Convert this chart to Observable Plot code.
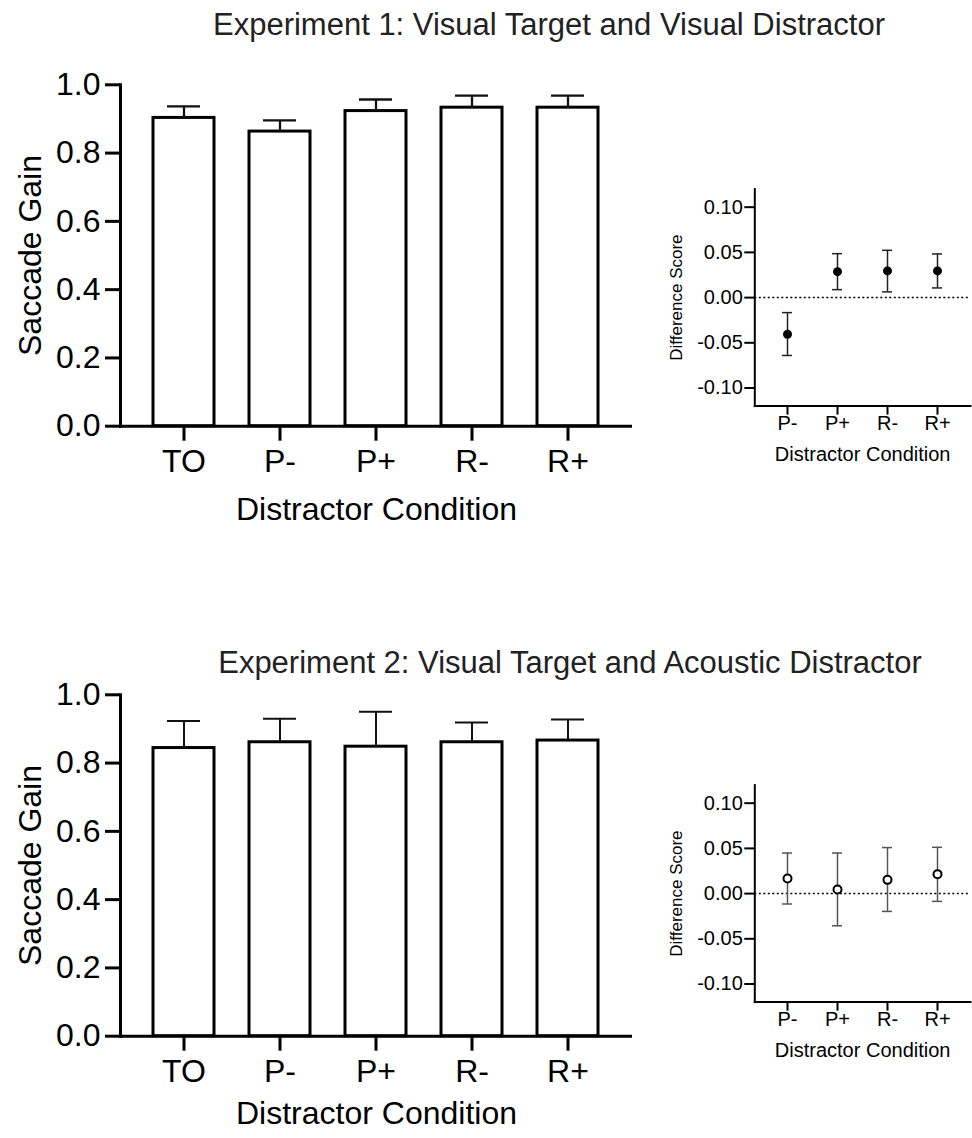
<!DOCTYPE html>
<html>
<head>
<meta charset="utf-8">
<script src="https://cdn.jsdelivr.net/npm/d3@7"></script>
<script src="https://cdn.jsdelivr.net/npm/@observablehq/plot@0.6"></script>
<style>
  html, body { margin: 0; padding: 0; background: #fff; overflow: hidden; }
  #page { position: relative; width: 972px; height: 1138px; background: #fff; font-family: "Liberation Sans", Arial, Helvetica, sans-serif; }
  .panel { position: absolute; }
  .title { position: absolute; left: 0; font-size: 31px; line-height: 30px; color: #222; text-align: center; white-space: nowrap; z-index: 5; }
</style>
</head>
<body>
<div id="page">
  <div class="title" id="t1" style="top:10px; width:1098px;">Experiment 1: Visual Target and Visual Distractor</div>
  <div class="title" id="t2" style="top:648px; width:1140px;">Experiment 2: Visual Target and Acoustic Distractor</div>
  <div class="panel" id="p1" style="left:0; top:40px;"></div>
  <div class="panel" id="p2" style="left:640px; top:170px;"></div>
  <div class="panel" id="p3" style="left:0; top:650px;"></div>
  <div class="panel" id="p4" style="left:640px; top:766px;"></div>
</div>
<script>
// ---- data ----
const conditions = ["TO", "P-", "P+", "R-", "R+"];
const gainTicks = [0, 0.2, 0.4, 0.6, 0.8, 1.0];
const exp1Gain = [0.903, 0.863, 0.923, 0.933, 0.933];
const exp1Err  = [0.034, 0.033, 0.034, 0.035, 0.035];
const exp2Gain = [0.844, 0.861, 0.848, 0.861, 0.866];
const exp2Err  = [0.079, 0.069, 0.102, 0.058, 0.062];

const diffConditions = ["P-", "P+", "R-", "R+"];
const diffTicks = [-0.10, -0.05, 0.00, 0.05, 0.10];
const exp1Diff   = [-0.0405, 0.0287, 0.0295, 0.0295];
const exp1DiffLo = [-0.0640, 0.0088, 0.0063, 0.0107];
const exp1DiffHi = [-0.0166, 0.0486, 0.0523, 0.0483];
const exp2Diff   = [0.0167, 0.0045, 0.0152, 0.0215];
const exp2DiffLo = [-0.0115, -0.0356, -0.0197, -0.0086];
const exp2DiffHi = [0.0449, 0.0449, 0.0509, 0.0512];

const FONT = '"Liberation Sans", Arial, Helvetica, sans-serif';

function barChart(gain, err, height, marginBottom, errWidth, labelDy) {
  const data = conditions.map((c, i) => ({c, g: gain[i], hi: gain[i] + err[i]}));
  return Plot.plot({
    width: 640, height,
    marginLeft: 120, marginRight: 8, marginTop: 44.3, marginBottom,
    style: {fontFamily: FONT, fontSize: "32px", color: "#000", background: "transparent", overflow: "visible"},
    x: {domain: conditions, paddingInner: 0.364, paddingOuter: 0.34},
    y: {domain: [0, 1]},
    marks: [
      Plot.barY(data, {x: "c", y: "g", fill: "white", stroke: "black", strokeWidth: 3}),
      Plot.ruleX(data, {x: "c", y1: "g", y2: "hi", stroke: "#111", strokeWidth: errWidth}),
      Plot.tickY(data, {x: "c", y: "hi", stroke: "#111", strokeWidth: errWidth, inset: 14}),
      Plot.ruleY([0], {stroke: "black", strokeWidth: 3}),
      Plot.frame({anchor: "left", stroke: "black", strokeWidth: 3}),
      Plot.axisY(gainTicks, {tickSize: 15, tickPadding: 5, strokeWidth: 3, fontSize: 32, tickFormat: d => d.toFixed(1), label: null}),
      Plot.axisX({tickSize: 15, tickPadding: 8, strokeWidth: 3, fontSize: 32, label: null}),
      Plot.text(["Saccade Gain"], {text: d => d, frameAnchor: "left", textAnchor: "middle", dx: -90, rotate: -90, fontSize: 32}),
      Plot.text(["Distractor Condition"], {text: d => d, frameAnchor: "bottom", textAnchor: "middle", dy: labelDy, fontSize: 32})
    ]
  });
}

function diffChart(mean, lo, hi, hollow, errColor) {
  const data = diffConditions.map((c, i) => ({c, m: mean[i], lo: lo[i], hi: hi[i]}));
  return Plot.plot({
    width: 332, height: 310,
    marginLeft: 114.3, marginRight: 2, marginTop: 18.6, marginBottom: 74.4,
    style: {fontFamily: FONT, fontSize: "20px", color: "#000", background: "transparent", overflow: "visible"},
    x: {domain: diffConditions, paddingInner: 0.8, paddingOuter: 0.548},
    y: {domain: [-0.12, 0.12]},
    marks: [
      Plot.ruleY([0], {stroke: "black", strokeWidth: 1.5, strokeDasharray: "2,2.5"}),
      Plot.ruleX(data, {x: "c", y1: "lo", y2: "hi", stroke: errColor, strokeWidth: 1.5}),
      Plot.tickY(data, {x: "c", y: "lo", stroke: errColor, strokeWidth: 1.5}),
      Plot.tickY(data, {x: "c", y: "hi", stroke: errColor, strokeWidth: 1.5}),
      Plot.dot(data, {x: "c", y: "m", r: hollow ? 4 : 4.5, fill: hollow ? "white" : "black", stroke: "black", strokeWidth: hollow ? 2 : 0}),
      Plot.frame({anchor: "left", stroke: "black", strokeWidth: 2}),
      Plot.frame({anchor: "bottom", stroke: "black", strokeWidth: 2}),
      Plot.axisY(diffTicks, {tickSize: 10, tickPadding: 2, strokeWidth: 2, fontSize: 20, tickFormat: d => d.toFixed(2), label: null}),
      Plot.axisX({tickSize: 9, tickPadding: 1, strokeWidth: 2, fontSize: 20, label: null}),
      Plot.text(["Difference Score"], {text: d => d, frameAnchor: "left", textAnchor: "middle", dx: -78, rotate: -90, fontSize: 17}),
      Plot.text(["Distractor Condition"], {text: d => d, frameAnchor: "bottom", textAnchor: "middle", dy: 55, fontSize: 20})
    ]
  });
}

document.getElementById("p1").appendChild(barChart(exp1Gain, exp1Err, 510, 124.3, 2.3, 94));
document.getElementById("p2").appendChild(diffChart(exp1Diff, exp1DiffLo, exp1DiffHi, false, "#222"));
document.getElementById("p3").appendChild(barChart(exp2Gain, exp2Err, 488, 102.3, 2, 88));
document.getElementById("p4").appendChild(diffChart(exp2Diff, exp2DiffLo, exp2DiffHi, true, "#555"));
</script>
</body>
</html>
